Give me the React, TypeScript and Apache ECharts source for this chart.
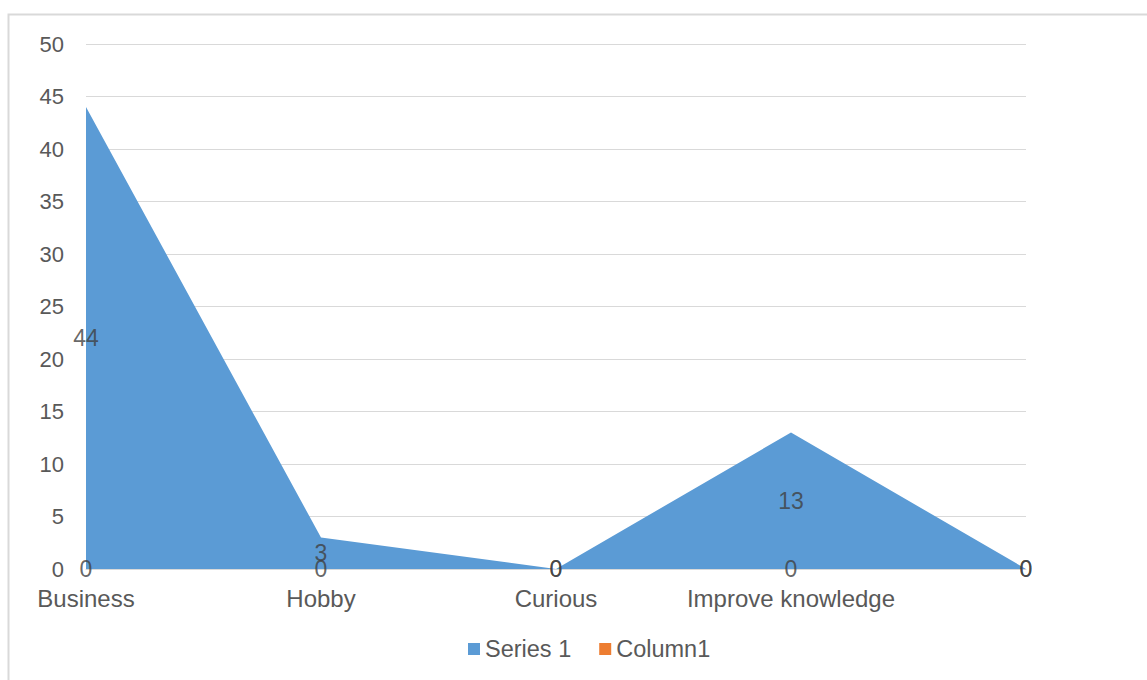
import React, { useEffect, useRef } from "react";
import * as echarts from "echarts";

const categories = ["Business", "Hobby", "Curious", "Improve knowledge", ""];
const series1 = [44, 3, 0, 13, 0];
const column1 = [0, 0, 0, 0, 0];
const yTicks = { min: 0, max: 50, interval: 5 };

const FONT = "Liberation Sans, Arial, sans-serif";

export default function App() {
  const ref = useRef<HTMLDivElement>(null);
  useEffect(() => {
    if (!ref.current) return;
    const chart = echarts.init(ref.current, null, { renderer: "svg" });
    chart.setOption({
      animation: false,
      graphic: [
        {
          type: "rect",
          shape: { x: 8.5, y: 14.5, width: 1300, height: 800 },
          style: { fill: "none", stroke: "#d9d9d9", lineWidth: 2 },
          silent: true,
        },
      ],
      grid: { left: 86, right: 121, top: 44, bottom: 111, containLabel: false },
      legend: {
        bottom: 19,
        left: 468,
        padding: 0,
        itemWidth: 12,
        itemHeight: 12,
        itemGap: 28,
        icon: "rect",
        textStyle: {
          fontFamily: FONT,
          fontSize: 23.5,
          color: "#595959",
        },
        data: ["Series 1", "Column1"],
      },
      xAxis: {
        type: "category",
        data: categories,
        boundaryGap: false,
        axisLine: { lineStyle: { color: "#d9d9d9", width: 1 } },
        axisTick: { show: false },
        axisLabel: {
          interval: 0,
          margin: 17,
          fontFamily: FONT,
          fontSize: 24,
          color: "#595959",
        },
      },
      yAxis: {
        type: "value",
        min: yTicks.min,
        max: yTicks.max,
        interval: yTicks.interval,
        axisLine: { show: false },
        axisTick: { show: false },
        splitLine: { lineStyle: { color: "#d9d9d9", width: 1 } },
        axisLabel: {
          margin: 22,
          fontFamily: FONT,
          fontSize: 22,
          color: "#595959",
        },
      },
      series: [
        {
          name: "Series 1",
          type: "line",
          data: series1,
          symbol: "none",
          lineStyle: { width: 0, color: "#5b9bd5" },
          itemStyle: { color: "#5b9bd5" },
          areaStyle: { color: "#5b9bd5", opacity: 1 },
          z: 2,
        },
        {
          name: "Column1",
          type: "line",
          data: column1,
          symbol: "none",
          lineStyle: { width: 0, color: "#ed7d31" },
          itemStyle: { color: "#ed7d31" },
          areaStyle: { color: "#ed7d31", opacity: 1 },
          z: 3,
        },
        {
          name: "s1labels",
          type: "scatter",
          data: series1.map((v) => v / 2),
          symbolSize: 0,
          silent: true,
          z: 5,
          label: {
            show: true,
            position: "inside",
            formatter: (p: any) => String(series1[p.dataIndex]),
            fontFamily: FONT,
            fontSize: 23,
            color: "#404040",
          },
        },
        {
          name: "c1labels",
          type: "scatter",
          data: column1.map((v) => v / 2),
          symbolSize: 0,
          silent: true,
          z: 5,
          label: {
            show: true,
            position: "inside",
            formatter: (p: any) => String(column1[p.dataIndex]),
            fontFamily: FONT,
            fontSize: 23,
            color: "#404040",
          },
        },
      ],
    });
    return () => chart.dispose();
  }, []);
  return (
    <div
      ref={ref}
      style={{ position: "absolute", left: 0, top: 0, width: 1147, height: 680 }}
    />
  );
}
